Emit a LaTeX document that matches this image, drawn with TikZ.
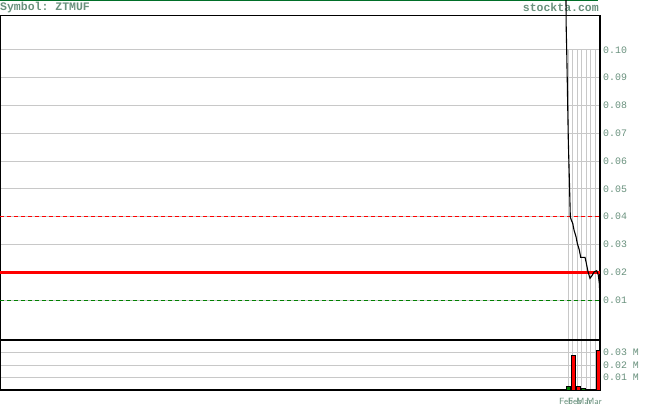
\documentclass[tikz,border=0pt]{standalone}
\usepackage{fontspec}
\setmainfont{Liberation Sans}
\setmonofont{Liberation Mono}
\usetikzlibrary{positioning}
\definecolor{labelgrey}{RGB}{105,145,125}
\definecolor{gridgrey}{RGB}{200,200,200}
\definecolor{topgreen}{RGB}{0,110,40}
\definecolor{volgreen}{RGB}{0,128,0}
\tikzset{
  gridline/.style={gridgrey, line width=1pt},
  frameline/.style={black, line width=1.3pt},
  axislabel/.style={labelgrey, anchor=west, inner sep=0pt, font=\fontsize{9.9}{10}\ttfamily},
  titlelabel/.style={labelgrey, inner sep=0pt, font=\fontsize{11.5}{12}\ttfamily\bfseries},
  monthlabel/.style={labelgrey, inner sep=0pt, font=\fontsize{9}{9}\sffamily},
  volbar/.style={draw=black, line width=0.8pt}
}

\begin{document}
\begin{tikzpicture}[x=1pt, y=-1pt]
                      \useasboundingbox (0,0) rectangle (655,406);
                      \draw[topgreen, line width=1.5pt] (0,0.75) -- (598,0.75);
                      \node[titlelabel, anchor=west] (symbol) at (0,7.5) {Symbol: ZTMUF};
                      \node[titlelabel, anchor=east] (site) at (599,7.5) {stockta.com};
                      \foreach \v/\t in {0.01/0.01, 0.02/0.02, 0.03/0.03, 0.04/0.04, 0.05/0.05, 0.06/0.06, 0.07/0.07, 0.08/0.08, 0.09/0.09, 0.10/0.10} {
                        \draw[gridline] (0,{327.8-2780*\v}) -- (600,{327.8-2780*\v});
                        \node[axislabel] (p\t) at (603,{327.8-2780*\v}) {\t};
                      }
                      \foreach \y/\t in {352/0.03, 365.3/0.02, 377.3/0.01} {
                        \draw[gridline] (0,\y) -- (600,\y);
                        \node[axislabel] (v\t) at (603,\y) {\t{} M};
                      }
                      \foreach \x in {568, 572.5, 577, 581.5, 586, 590.5, 595}
                        \draw[gridline] (\x,49.8) -- (\x,390);
                      \foreach \x/\m [count=\i] in {566/Feb, 575/Feb, 584/Mar, 594/Mar}
                        \node[monthlabel] (month\i) at (\x,401) {\m};
                      \draw[frameline] (0.6,15.5) rectangle (600,340);
                      \draw[frameline] (0.6,340) rectangle (600,390);
                      \draw[red, line width=1pt, dash pattern=on 4pt off 3pt] (0,216) -- (600,216);
                      \draw[volgreen, line width=1pt, dash pattern=on 4pt off 3pt] (0,300) -- (600,300);
                      \draw[red, line width=3.5pt] (0,272.3) -- (600,272.3);
                      \draw[black, line width=1.1pt] (566,0) -- (566.2,28) -- (566.7,50) -- (567.3,83) -- (568.3,140)
                        -- (569.7,193) -- (570.3,217) -- (571.3,220) -- (572.7,223.3) -- (574,230) -- (576,236.7)
                        -- (577.3,243.3) -- (579.3,250) -- (580.7,257.3) -- (585,257.3) -- (586,261.7) -- (588,271.7)
                        -- (590,278.3) -- (591.7,276) -- (594.3,271.7) -- (596.7,270.7) -- (598.3,275) -- (599.3,283.3) -- (600,296.7);
                      \draw[volbar, fill=volgreen] (566.7,390) rectangle (570.7,386);
                      \draw[volbar, fill=red] (571.3,390) rectangle (575.7,355);
                      \draw[volbar, fill=red] (576.3,390) rectangle (580,386.7);
                      \draw[volbar, fill=volgreen] (581.3,390) rectangle (585,388.7);
                      \draw[volbar, fill=red] (596,390) rectangle (600,350);
                  \end{tikzpicture}
\end{document}
